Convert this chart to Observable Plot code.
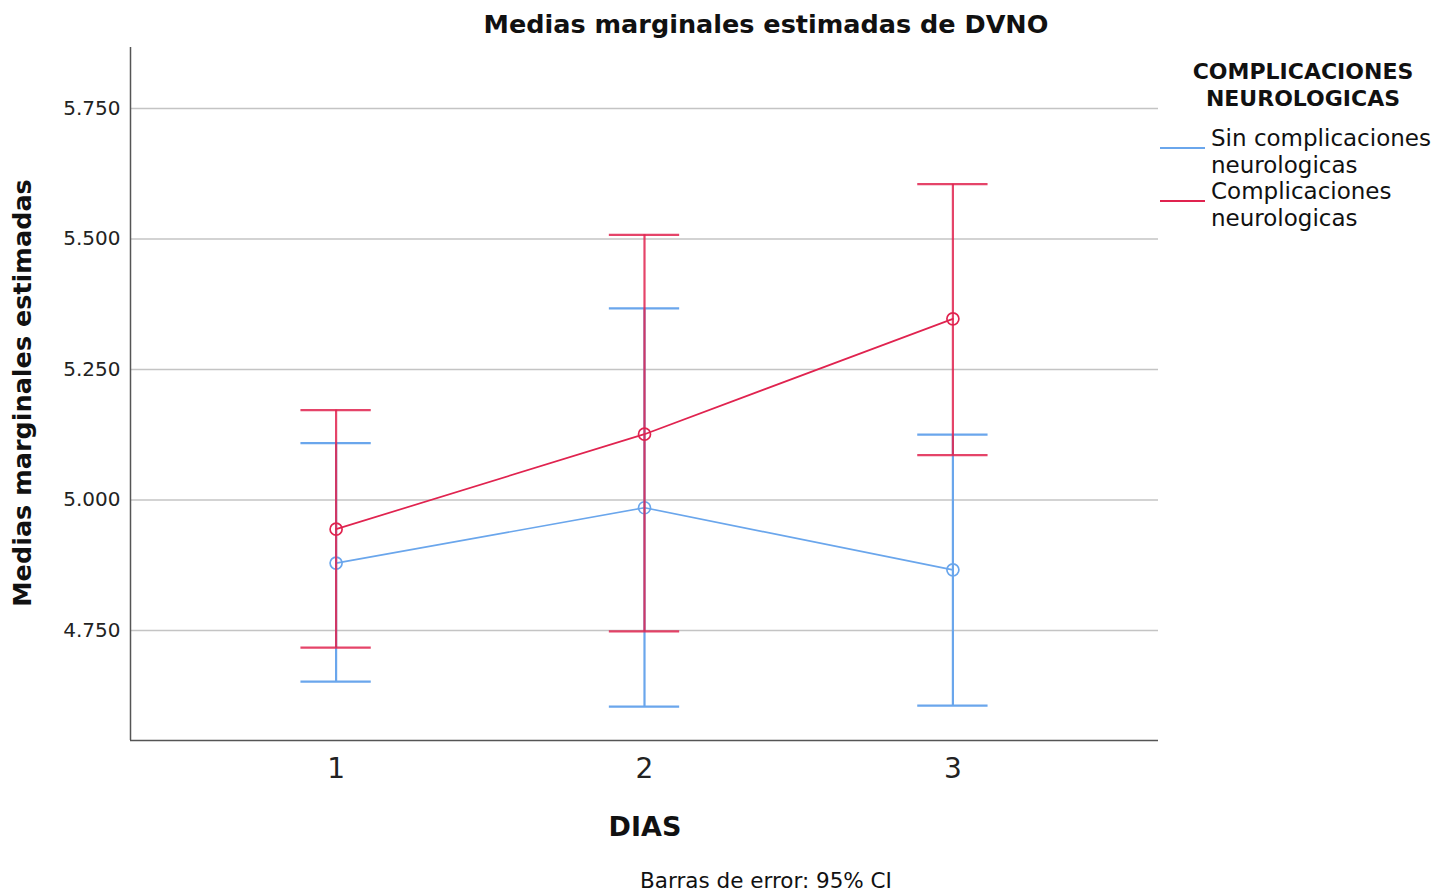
<!DOCTYPE html>
<html>
<head>
<meta charset="utf-8">
<script src="https://cdn.jsdelivr.net/npm/d3@7"></script>
<script src="https://cdn.jsdelivr.net/npm/@observablehq/plot@0.6"></script>
<style>
  html, body { margin: 0; padding: 0; background: #fff; }
  body { width: 1455px; height: 895px; position: relative; overflow: hidden; font-family: "DejaVu Sans", sans-serif; color: #111; }
  .abs { position: absolute; white-space: nowrap; }
  #title { left: 0; width: 1532px; top: 9px; text-align: center; font-weight: bold; font-size: 25.5px; }
  #caption { left: 0; width: 1532px; top: 868px; text-align: center; font-size: 21.5px; }
  #legend { left: 1158px; top: 58px; width: 297px; }
  #legend .lt { text-align: center; font-weight: bold; font-size: 22px; line-height: 27px; width: 290px; margin-bottom: 13px; }
  #legend .item { position: relative; font-size: 23px; line-height: 26.5px; padding-left: 53px; }
  #legend .sw { position: absolute; left: 2px; top: 22px; width: 45px; height: 0; border-top: 2px solid; }
  #chart { position: absolute; left: 0; top: 0; }
</style>
</head>
<body>
<div id="chart"></div>
<div id="title" class="abs"></div>
<div id="legend" class="abs"></div>
<div id="caption" class="abs"></div>
<script>
const days = [1, 2, 3];
const groups = ["Sin complicaciones neurologicas", "Complicaciones neurologicas"];
const meanSin = [4.879, 4.985, 4.866];
const lowerSin = [4.652, 4.604, 4.606];
const upperSin = [5.109, 5.367, 5.125];
const meanCom = [4.944, 5.126, 5.347];
const lowerCom = [4.717, 4.748, 5.086];
const upperCom = [5.172, 5.508, 5.605];
const yTicks = [4.75, 5.0, 5.25, 5.5, 5.75];
const colors = ["#6aa6ec", "#e0234f"];
const titleText = "Medias marginales estimadas de DVNO";
const xLabel = "DIAS";
const yLabel = "Medias marginales estimadas";
const legendTitle = ["COMPLICACIONES", "NEUROLOGICAS"];
const legendLabels = [["Sin complicaciones", "neurologicas"], ["Complicaciones", "neurologicas"]];
const captionText = "Barras de error: 95% CI";

const data = [];
days.forEach((d, i) => {
  data.push({day: d, group: groups[0], mean: meanSin[i], lo: lowerSin[i], hi: upperSin[i]});
});
days.forEach((d, i) => {
  data.push({day: d, group: groups[1], mean: meanCom[i], lo: lowerCom[i], hi: upperCom[i]});
});
const sin = data.filter(d => d.group === groups[0]);
const com = data.filter(d => d.group === groups[1]);
const capHalf = 0.114;

function layers(arr, color, op) {
  return [
    Plot.ruleX(arr, {x: "day", y1: "lo", y2: "hi", stroke: color, strokeWidth: 2.2, strokeOpacity: op}),
    Plot.ruleY(arr, {y: "hi", x1: d => d.day - capHalf, x2: d => d.day + capHalf, stroke: color, strokeWidth: 2.2, strokeOpacity: op}),
    Plot.ruleY(arr, {y: "lo", x1: d => d.day - capHalf, x2: d => d.day + capHalf, stroke: color, strokeWidth: 2.2, strokeOpacity: op}),
    Plot.line(arr, {x: "day", y: "mean", stroke: color, strokeWidth: 1.7}),
    Plot.dot(arr, {x: "day", y: "mean", r: 6, stroke: color, strokeWidth: 1.7, fill: "none"})
  ];
}

const chart = Plot.plot({
  width: 1455,
  height: 895,
  marginLeft: 130,
  marginRight: 297,
  marginTop: 47,
  marginBottom: 155,
  style: {fontFamily: "DejaVu Sans, sans-serif", color: "#222", background: "#fff"},
  x: {domain: [1/3, 11/3], ticks: days, tickFormat: d => String(d), tickSize: 0, tickPadding: 16, label: null},
  y: {domain: [4.539, 5.867], ticks: yTicks, tickFormat: d3.format(".3f"), tickSize: 0, tickPadding: 10, label: null},
  marks: [
    Plot.gridY(yTicks, {stroke: "#c4c4c4", strokeOpacity: 1, strokeWidth: 1.5}),
    Plot.axisY({ticks: yTicks, tickFormat: d3.format(".3f"), tickSize: 0, tickPadding: 10, fontSize: 20, label: null}),
    Plot.axisX({ticks: days, tickFormat: d => String(d), tickSize: 0, tickPadding: 18, fontSize: 28, label: null}),
    Plot.ruleX([1/3], {stroke: "#555", strokeWidth: 1.5}),
    Plot.ruleY([4.539], {stroke: "#555", strokeWidth: 1.5}),
    ...layers(sin, colors[0], 1),
    ...layers(com, colors[1], 0.85)
  ]
});
document.getElementById("chart").appendChild(chart);

// axis titles as SVG text
const svg = d3.select(chart);
svg.append("text").text(xLabel)
  .attr("x", 645).attr("y", 836).attr("text-anchor", "middle")
  .attr("font-size", 27).attr("font-weight", "bold").attr("fill", "#111");
svg.append("text").text(yLabel)
  .attr("transform", "translate(31,393) rotate(-90)").attr("text-anchor", "middle")
  .attr("font-size", 25.5).attr("font-weight", "bold").attr("fill", "#111");

document.getElementById("title").textContent = titleText;
document.getElementById("caption").textContent = captionText;

const legend = document.getElementById("legend");
legend.innerHTML = `<div class="lt">${legendTitle.join("<br>")}</div>` +
  legendLabels.map((l, i) => `<div class="item"><span class="sw" style="border-color:${colors[i]}"></span>${l.join("<br>")}</div>`).join("");
</script>
</body>
</html>
